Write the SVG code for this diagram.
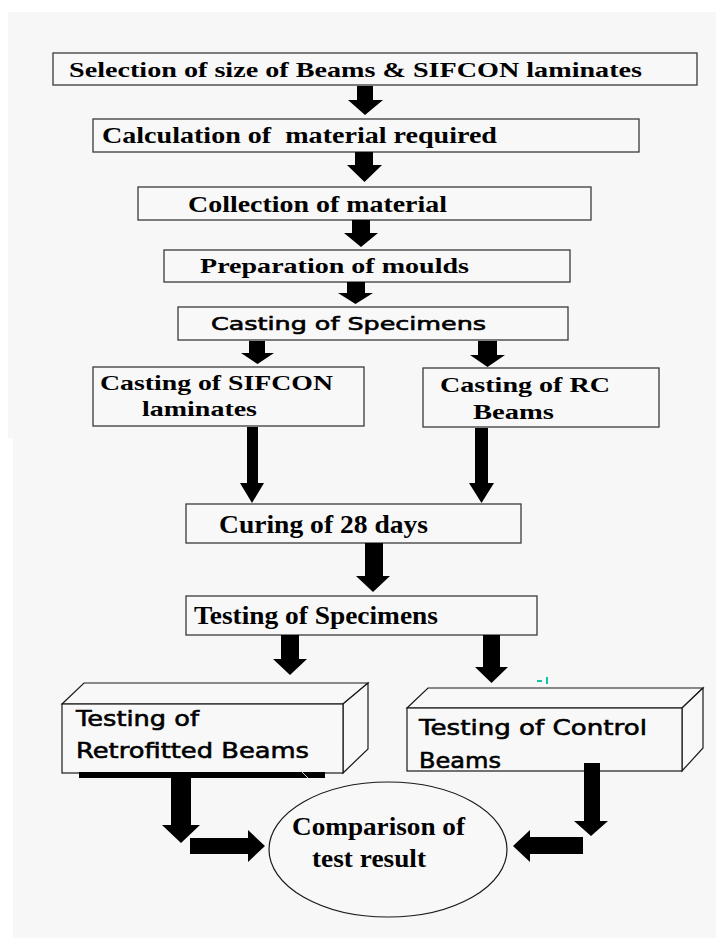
<svg xmlns="http://www.w3.org/2000/svg" width="716" height="938" viewBox="0 0 716 938">
<style>
.bg{fill:#f7f7f7}
.box{fill:#f8f8f8;stroke:#3a3a3a;stroke-width:1.3}
.b3d{fill:#f8f8f8;stroke:#1a1a1a;stroke-width:1.2;stroke-linejoin:miter}
.arr{fill:#000}
.ts{font-family:"Liberation Serif","Times New Roman",serif;font-weight:bold;fill:#000}
.sa{font-family:"DejaVu Sans","Verdana",sans-serif;fill:#000;stroke:#000;stroke-width:0.6}
</style>
<rect x="0" y="0" width="716" height="938" fill="#ffffff"/>
<rect class="bg" x="8" y="12" width="708" height="426"/>
<rect class="bg" x="13" y="437" width="703" height="501"/>

<g id="n1">
<rect class="box" x="53" y="53" width="644" height="32"/>
<text class="ts" x="69" y="77" font-size="22" textLength="573" lengthAdjust="spacingAndGlyphs">Selection of size of Beams &amp; SIFCON laminates</text>
</g>
<g id="n2">
<rect class="box" x="93" y="119" width="546" height="33"/>
<text class="ts" x="102" y="143" font-size="23" textLength="395" lengthAdjust="spacingAndGlyphs" xml:space="preserve">Calculation of  material required</text>
</g>
<g id="n3">
<rect class="box" x="138" y="187" width="453" height="33"/>
<text class="ts" x="188" y="212" font-size="23" textLength="259" lengthAdjust="spacingAndGlyphs">Collection of material</text>
</g>
<g id="n4">
<rect class="box" x="164" y="250" width="406" height="32"/>
<text class="ts" x="200" y="273" font-size="22" textLength="269" lengthAdjust="spacingAndGlyphs">Preparation of moulds</text>
</g>
<g id="n5">
<rect class="box" x="178" y="307" width="390" height="33"/>
<text class="sa" x="211" y="330" font-size="18" textLength="275" lengthAdjust="spacingAndGlyphs">Casting of Specimens</text>
</g>
<g id="n6">
<rect class="box" x="93" y="367" width="271" height="59"/>
<text class="ts" x="100" y="390" font-size="21" textLength="233" lengthAdjust="spacingAndGlyphs">Casting of SIFCON</text>
<text class="ts" x="142" y="416" font-size="21" textLength="115" lengthAdjust="spacingAndGlyphs">laminates</text>
</g>
<g id="n7">
<rect class="box" x="423" y="368" width="236" height="59"/>
<text class="ts" x="440" y="392" font-size="21" textLength="170" lengthAdjust="spacingAndGlyphs">Casting of RC</text>
<text class="ts" x="473" y="419" font-size="21" textLength="81" lengthAdjust="spacingAndGlyphs">Beams</text>
</g>
<g id="n8">
<rect class="box" x="186" y="504" width="335" height="39"/>
<text class="ts" x="219" y="533" font-size="26" textLength="209" lengthAdjust="spacingAndGlyphs">Curing of 28 days</text>
</g>
<g id="n9">
<rect class="box" x="186" y="596" width="351" height="39"/>
<text class="ts" x="194" y="624" font-size="26" textLength="244" lengthAdjust="spacingAndGlyphs">Testing of Specimens</text>
</g>
<g id="n10">
<polygon class="b3d" points="62,704 84,683 368,683 343,704"/>
<polygon class="b3d" points="343,704 368,683 368,749 343,773"/>
<rect class="b3d" x="62" y="704" width="281" height="69"/>
<rect x="79" y="772" width="246" height="6" fill="#000"/>
<line x1="301" y1="771" x2="308" y2="778" stroke="#cfcfcf" stroke-width="1"/>
<text class="sa" x="76" y="726" font-size="22" textLength="123" lengthAdjust="spacingAndGlyphs">Testing of</text>
<text class="sa" x="76" y="758" font-size="22" textLength="233" lengthAdjust="spacingAndGlyphs">Retrofitted Beams</text>
</g>
<g id="n11">
<polygon class="b3d" points="407,708 428,688 703,688 682,708"/>
<polygon class="b3d" points="682,708 703,688 703,748 682,771"/>
<rect class="b3d" x="407" y="708" width="275" height="63"/>
<text class="sa" x="419" y="735" font-size="22" textLength="228" lengthAdjust="spacingAndGlyphs">Testing of Control</text>
<text class="sa" x="419" y="768" font-size="22" textLength="82" lengthAdjust="spacingAndGlyphs">Beams</text>
</g>
<g id="n12">
<ellipse cx="388" cy="849.5" rx="119" ry="67.5" fill="#f8f8f8" stroke="#1a1a1a" stroke-width="1.2"/>
<text class="ts" x="292" y="835" font-size="26" textLength="173" lengthAdjust="spacingAndGlyphs">Comparison of</text>
<text class="ts" x="312" y="867" font-size="26" textLength="114" lengthAdjust="spacingAndGlyphs">test result</text>
</g>

<g id="mark" fill="#10c8a0">
<rect x="537" y="680" width="5" height="2"/>
<rect x="546" y="677" width="2" height="7"/>
</g>

<g id="connectors" class="arr">
<polygon points="357,86 373,86 373,100 383,100 365,115 348,100 357,100"/>
<polygon points="355,152 373,152 373,165 382,165 364.5,182 347,165 355,165"/>
<polygon points="352,220 370,220 370,233 378,233 361,247 344,233 352,233"/>
<polygon points="347,282 365,282 365,293 373,293 355.5,304 338,293 347,293"/>
<polygon points="249,341 265,341 265,353 274,353 257.5,364 241,353 249,353"/>
<polygon points="478,341 497,341 497,355 505,355 487.5,367 470,355 478,355"/>
<polygon points="247,427 258,427 258,483 264,483 252,503 240,483 247,483"/>
<polygon points="475,428 488,428 488,483 494,483 481.5,503 469,483 475,483"/>
<polygon points="365,543 383,543 383,576 390,576 373,592 356,576 365,576"/>
<polygon points="281,635 299,635 299,659 307,659 290,675 273,659 281,659"/>
<polygon points="483,635 500,635 500,667 508,667 491.5,683 475,667 483,667"/>
<polygon points="171,778 191,778 191,825 200,825 181,843 162,825 171,825"/>
<polygon points="584,763 600,763 600,821 608,821 591,836 574,821 584,821"/>
<polygon points="190,838 248,838 248,830 265,846 248,862 248,854 190,854"/>
<polygon points="583,837 530,837 530,830 513,846 530,862 530,854 583,854"/>
</g>
</svg>
